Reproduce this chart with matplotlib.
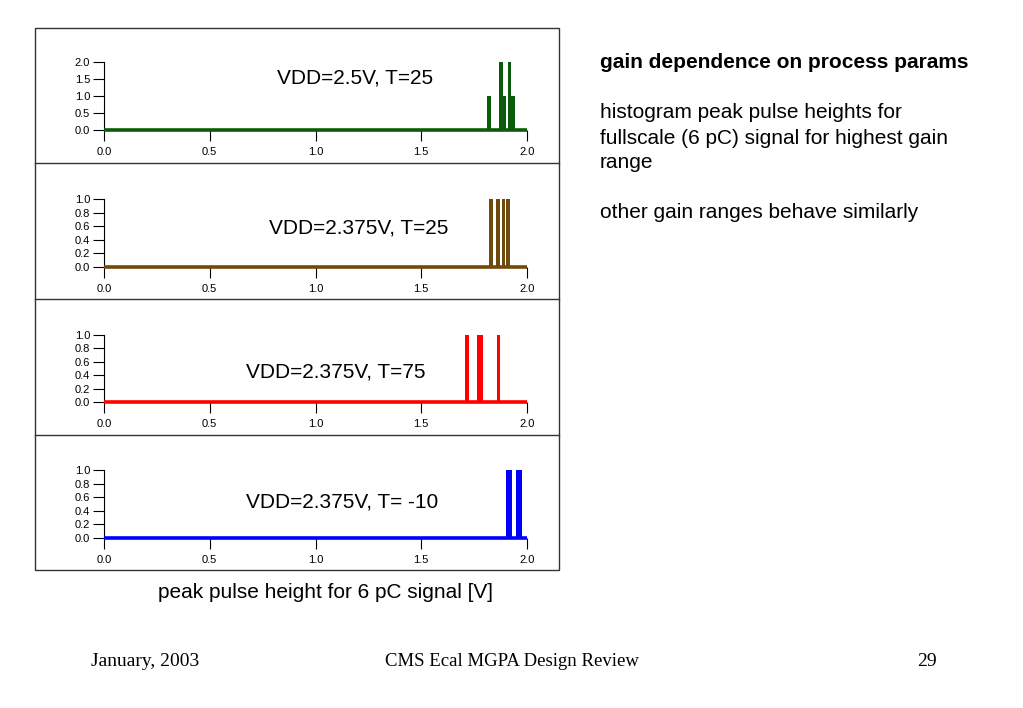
import matplotlib.pyplot as plt
from matplotlib.patches import Rectangle
from matplotlib.lines import Line2D

# histogram data (bin centre [V], counts) for each condition
labels = ["VDD=2.5V, T=25", "VDD=2.375V, T=25", "VDD=2.375V, T=75", "VDD=2.375V, T= -10"]
centers_25_25 = [1.82, 1.877, 1.894, 1.916, 1.934]
counts_25_25 = [1, 2, 1, 2, 1]
centers_2375_25 = [1.830, 1.863, 1.888, 1.911]
counts_2375_25 = [1, 1, 1, 1]
centers_2375_75 = [1.716, 1.771, 1.786, 1.866]
counts_2375_75 = [1, 1, 1, 1]
centers_2375_m10 = [1.914, 1.961]
counts_2375_m10 = [1, 1]
bin_widths = [0.015, 0.016, 0.016, 0.026]

y_ticks = [[0.0, 0.5, 1.0, 1.5, 2.0], [0.0, 0.2, 0.4, 0.6, 0.8, 1.0],
           [0.0, 0.2, 0.4, 0.6, 0.8, 1.0], [0.0, 0.2, 0.4, 0.6, 0.8, 1.0]]
x_ticks = [0.0, 0.5, 1.0, 1.5, 2.0]

centers = [centers_25_25, centers_2375_25, centers_2375_75, centers_2375_m10]
counts = [counts_25_25, counts_2375_25, counts_2375_75, counts_2375_m10]
colors = ['#0a5c0a', '#6e4a0c', '#ff0000', '#0000ff']

W, H = 1023, 708
fig = plt.figure(figsize=(W / 100, H / 100), dpi=100)
plt.rcParams['font.family'] = ['Liberation Sans', 'DejaVu Sans']

# axes placement in pixels: (y of zero, y of top)
panels = [(130, 62), (267, 199), (402, 335), (538, 470)]
text_pos = [(355, 78), (359, 228), (336, 372), (342, 502)]
x0, x1 = 104, 527

for i in range(4):
    yb, yt = panels[i]
    ax = fig.add_axes([x0 / W, 1 - yb / H, (x1 - x0) / W, (yb - yt) / H])
    ax.bar(centers[i], counts[i], width=bin_widths[i], color=colors[i],
           edgecolor='none', linewidth=0)
    ax.axhline(0, color=colors[i], lw=2.6, zorder=3, clip_on=False,
               solid_capstyle='butt')
    ax.set_xlim(0, 2.0)
    ax.set_ylim(0, max(y_ticks[i]))
    ax.set_xticks(x_ticks)
    ax.set_xticklabels([f"{v:.1f}" for v in x_ticks])
    ax.set_yticks(y_ticks[i])
    ax.set_yticklabels([f"{v:.1f}" for v in y_ticks[i]])
    for s in ['top', 'right']:
        ax.spines[s].set_visible(False)
    ax.spines['bottom'].set_visible(False)
    ax.spines['left'].set_linewidth(0.8)
    ax.tick_params(axis='y', length=8, width=0.8, pad=2, labelsize=8)
    ax.tick_params(axis='x', length=8, width=0.8, pad=4, labelsize=8)
    ax.patch.set_alpha(0)
    tx, ty = text_pos[i]
    fig.text(tx / W, 1 - ty / H, labels[i], ha='center', va='center', fontsize=15)

# frame around the panels
fig.add_artist(Rectangle((35 / W, 1 - 570 / H), (559 - 35) / W, (570 - 28) / H,
                         transform=fig.transFigure, fill=False, lw=1, color='#333333'))
for yy in [163, 299, 435]:
    fig.add_artist(Line2D([35 / W, 559 / W], [1 - yy / H, 1 - yy / H],
                          transform=fig.transFigure, lw=1, color='#333333'))

fig.text(325 / W, 1 - 592 / H, "peak pulse height for 6 pC signal [V]",
         ha='center', va='center', fontsize=15)

# side notes
fig.text(600 / W, 1 - 62 / H, "gain dependence on process params",
         ha='left', va='center', fontsize=15, fontweight='bold')
fig.text(600 / W, 1 - 113 / H, "histogram peak pulse heights for",
         ha='left', va='center', fontsize=15)
fig.text(600 / W, 1 - 138 / H, "fullscale (6 pC) signal for highest gain",
         ha='left', va='center', fontsize=15)
fig.text(600 / W, 1 - 163 / H, "range", ha='left', va='center', fontsize=15)
fig.text(600 / W, 1 - 213 / H, "other gain ranges behave similarly",
         ha='left', va='center', fontsize=15)

# footer
fig.text(145 / W, 1 - 662 / H, "January, 2003", ha='center', va='center',
         fontsize=14, family='Liberation Serif')
fig.text(512 / W, 1 - 662 / H, "CMS Ecal MGPA Design Review", ha='center', va='center',
         fontsize=13.5, family='Liberation Serif')
fig.text(927 / W, 1 - 662 / H, "29", ha='center', va='center',
         fontsize=14, family='Liberation Serif')

fig.savefig("out.png", dpi=100)
